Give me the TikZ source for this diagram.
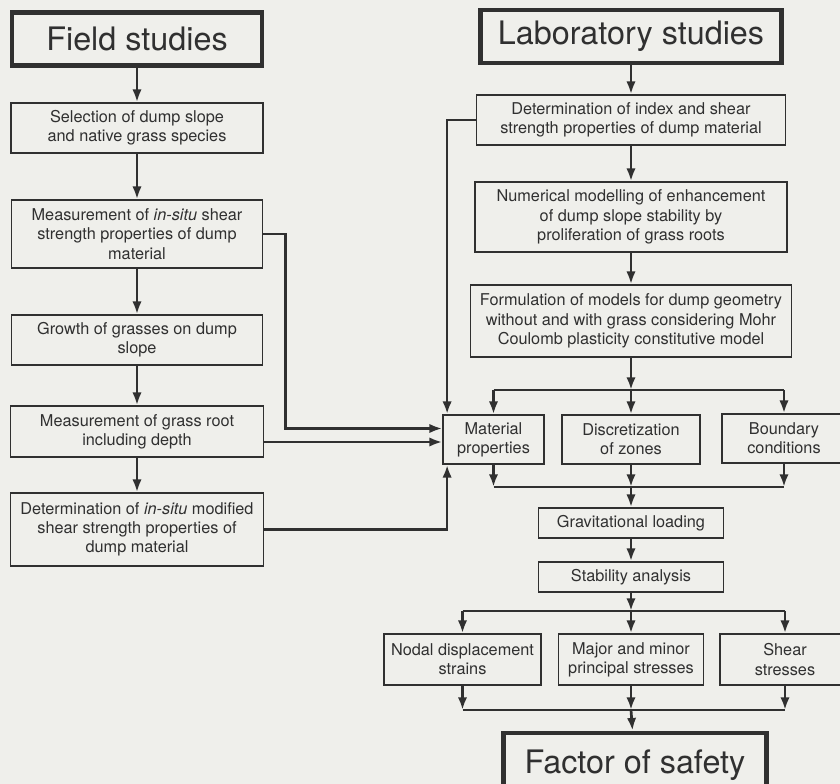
\documentclass[tikz,border=0pt]{standalone}
\usepackage{fontspec}
\setmainfont{TeX Gyre Heros}
\usepackage{xcolor}
\definecolor{scanbg}{HTML}{EFEFEB}
\definecolor{scanink}{HTML}{303030}
\usepackage{tikz}
\usetikzlibrary{arrows.meta,positioning,calc}
\tikzset{
  blk/.style={draw=scanink,line width=1.5pt,align=center,inner sep=2pt,text=scanink,
    font=\fontsize{13.9}{16.4}\selectfont},
  headblk/.style={draw=scanink,line width=4pt,align=center,inner sep=2pt,text=scanink,
    font=\fontsize{27.6}{30}\selectfont},
  link/.style={draw=scanink,line width=2.3pt},
  arr/.style={link,-{Latex[length=3.8mm,width=2.8mm]}}
}

\begin{document}
\begin{tikzpicture}[x=0.3mm,y=-0.3mm]
\clip (0,0) rectangle (840,784);
\fill[scanbg] (0,0) rectangle (840,784);
% field side
\node[headblk,minimum width=250*0.3mm,minimum height=53*0.3mm] (fs) at (137,39) {Field studies};
\node[blk,minimum width=252*0.3mm,minimum height=50*0.3mm] (sel) at (137,128)
  {Selection of dump slope\\and native grass species};
\node[blk,minimum width=251*0.3mm,minimum height=68*0.3mm] (mis) at (137,234)
  {Measurement of \textit{in-situ} shear\\strength properties of dump\\material};
\node[blk,minimum width=251*0.3mm,minimum height=50*0.3mm] (gro) at (137,340)
  {Growth of grasses on dump\\slope};
\node[blk,minimum width=253*0.3mm,minimum height=51*0.3mm] (grr) at (137,431.5)
  {Measurement of grass root\\including depth};
\node[blk,minimum width=253*0.3mm,minimum height=73*0.3mm] (dis) at (137,529.5)
  {Determination of \textit{in-situ} modified\\shear strength properties of\\dump material};
% laboratory side
\node[headblk,minimum width=301*0.3mm,minimum height=53*0.3mm] (ls) at (631,36.5) {Laboratory studies};
\node[blk,minimum width=309*0.3mm,minimum height=50*0.3mm] (dix) at (631,120)
  {Determination of index and shear\\strength properties of dump material};
\node[blk,minimum width=312*0.3mm,minimum height=70*0.3mm] (num) at (631,217)
  {Numerical modelling of enhancement\\of dump slope stability by\\proliferation of grass roots};
\node[blk,minimum width=321*0.3mm,minimum height=72*0.3mm] (frm) at (631,321)
  {Formulation of models for dump geometry\\without and with grass considering Mohr\\Coulomb plasticity constitutive model};
\node[blk,minimum width=101*0.3mm,minimum height=49*0.3mm] (mat) at (493.5,439.5)
  {Material\\properties};
\node[blk,minimum width=138*0.3mm,minimum height=49*0.3mm] (dz) at (631,439.5)
  {Discretization\\of zones};
\node[blk,minimum width=124*0.3mm,minimum height=49*0.3mm] (bc) at (784,438.5)
  {Boundary\\conditions};
\node[blk,minimum width=185*0.3mm,minimum height=30*0.3mm] (gl) at (631,523)
  {Gravitational loading};
\node[blk,minimum width=185*0.3mm,minimum height=30*0.3mm] (sa) at (631,577)
  {Stability analysis};
\node[blk,minimum width=157*0.3mm,minimum height=51*0.3mm] (nd) at (462.5,659.5)
  {Nodal displacement\\strains};
\node[blk,minimum width=145*0.3mm,minimum height=51*0.3mm] (ms) at (631,659.5)
  {Major and minor\\principal stresses};
\node[blk,minimum width=130*0.3mm,minimum height=51*0.3mm] (ss) at (785,659.5)
  {Shear\\stresses};
\node[headblk,minimum width=263*0.3mm,minimum height=64*0.3mm] (fos) at (635,765) {Factor of safety};

\draw[arr] (fs) -- (sel);
\draw[arr] (sel) -- (mis);
\draw[arr] (mis) -- (gro);
\draw[arr] (gro) -- (grr);
\draw[arr] (grr) -- (dis);
\draw[arr] (ls) -- (dix);
\draw[arr] (dix) -- (num);
\draw[arr] (num) -- (frm);

\coordinate (m1) at ($(mat.west)+(0,-11)$);
\coordinate (m2) at ($(mat.west)+(0,2.5)$);
\draw[arr] (mis.east) -- ++(22,0) |- (m1);
\draw[arr] (grr.east |- m2) -- (m2);
\draw[arr] (dis.east) -| ($(mat.south west)+(5,0)$);
\draw[arr] (dix.west) -| ($(mat.north west)+(5,0)$);

\coordinate (busA) at (631,390);
\coordinate (busB) at (631,487);
\draw[arr] (frm) -- (busA);
\draw[link] (busA -| mat) -- (busA -| bc);
\foreach \n in {mat,dz,bc}
  \draw[arr] (busA -| \n) -- (\n);
\foreach \n in {mat,dz,bc}
  \draw[arr] (\n) -- (busB -| \n);
\draw[link] (busB -| mat) -- (busB -| bc);
\draw[arr] (busB) -- (gl);
\draw[arr] (gl) -- (sa);

\coordinate (busC) at (631,611);
\coordinate (busD) at (631,710);
\draw[arr] (sa) -- (busC);
\draw[link] (busC -| nd) -- (busC -| ss);
\foreach \n in {nd,ms,ss}
  \draw[arr] (busC -| \n) -- (\n);
\foreach \n in {nd,ms,ss}
  \draw[arr] (\n) -- (busD -| \n);
\draw[link] (busD -| nd) -- (busD -| ss);
\draw[arr] (busD) -- (fos);
\end{tikzpicture}
\end{document}
